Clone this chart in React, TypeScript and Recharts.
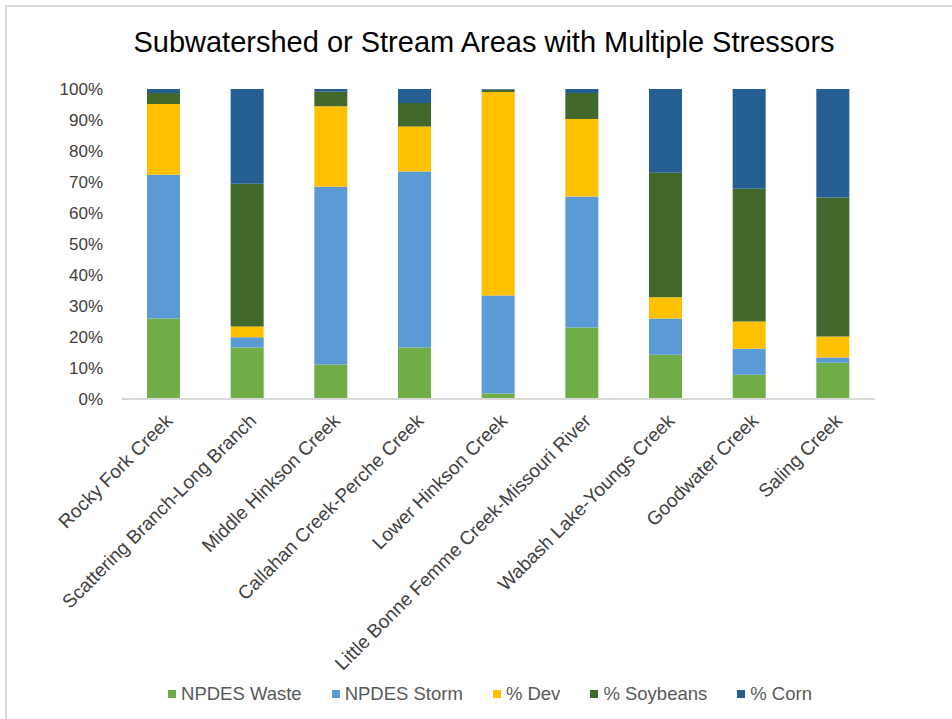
import React from 'react';
import { BarChart, Bar, XAxis, YAxis, Legend } from 'recharts';

const categories = [
  'Rocky Fork Creek',
  'Scattering Branch-Long Branch',
  'Middle Hinkson Creek',
  'Callahan Creek-Perche Creek',
  'Lower Hinkson Creek',
  'Little Bonne Femme Creek-Missouri River',
  'Wabash Lake-Youngs Creek',
  'Goodwater Creek',
  'Saling Creek',
];
const npdesWaste = [26.0, 16.6, 11.1, 16.6, 1.8, 23.1, 14.3, 7.8, 11.7];
const npdesStorm = [46.3, 3.3, 57.4, 56.8, 31.6, 42.2, 11.7, 8.4, 1.7];
const pctDev = [22.9, 3.5, 25.9, 14.5, 65.6, 25.0, 6.8, 8.8, 6.8];
const pctSoybeans = [3.5, 46.0, 4.7, 7.6, 0.8, 8.4, 40.2, 42.8, 44.8];
const pctCorn = [1.3, 30.6, 0.9, 4.5, 0.2, 1.3, 27.0, 32.2, 35.0];
const yTicks = [0, 10, 20, 30, 40, 50, 60, 70, 80, 90, 100];

const seriesNames = ['NPDES Waste', 'NPDES Storm', '% Dev', '% Soybeans', '% Corn'];
const seriesColors = ['#70AD47', '#5B9BD5', '#FFC000', '#43682B', '#255E91'];

const data = categories.map((name, i) => ({
  name,
  waste: npdesWaste[i],
  storm: npdesStorm[i],
  dev: pctDev[i],
  soy: pctSoybeans[i],
  corn: pctCorn[i],
}));
const keys = ['waste', 'storm', 'dev', 'soy', 'corn'];

const FONT = '"Liberation Sans", Arial, sans-serif';

const XTick = (props: any) => {
  const { x, y, payload } = props;
  return (
    <g transform={`translate(${x + 5},${y + 10})`}>
      <text
        x={0}
        y={0}
        textAnchor="end"
        transform="rotate(-45)"
        fontSize={19}
        fill="#404040"
        fontFamily={FONT}
        dy={7}
      >
        {payload.value}
      </text>
    </g>
  );
};

const LegendContent = (props: any) => {
  const payload = [...(props.payload || [])].sort(
    (a: any, b: any) => seriesNames.indexOf(a.value) - seriesNames.indexOf(b.value)
  );
  return (
    <div style={{ display: 'flex', justifyContent: 'center', fontFamily: FONT, fontSize: 18.5, color: '#595959', paddingLeft: 28 }}>
      {payload.map((p: any, i: number) => (
        <div key={i} style={{ display: 'flex', alignItems: 'center', marginRight: i < payload.length - 1 ? 30 : 0 }}>
          <span style={{ display: 'inline-block', width: 8, height: 8, background: p.color, marginRight: 5 }} />
          <span>{p.value}</span>
        </div>
      ))}
    </div>
  );
};

export default function App() {
  return (
    <div style={{ position: 'absolute', left: 0, top: 0, width: 952, height: 719, background: '#fff', overflow: 'hidden' }}>
      <div style={{ position: 'absolute', left: 5, top: 5, width: 960, height: 730, borderLeft: '2px solid #d9d9d9', borderTop: '2px solid #d9d9d9' }} />
      <div style={{ position: 'absolute', left: 0, top: 26, width: 968, textAlign: 'center', fontFamily: FONT, fontSize: 29, color: '#000' }}>
        Subwatershed or Stream Areas with Multiple Stressors
      </div>
      <div style={{ position: 'absolute', left: 0, top: 0 }}>
        <BarChart
          width={952}
          height={719}
          data={data}
          margin={{ top: 89, right: 77, bottom: 10, left: 0 }}
          barCategoryGap="30%"
        >
          <XAxis
            dataKey="name"
            interval={0}
            tick={<XTick />}
            tickLine={false}
            axisLine={{ stroke: '#d9d9d9', strokeWidth: 2 }}
            height={284}
          />
          <YAxis
            domain={[0, 100]}
            ticks={yTicks}
            tickFormatter={(v: number) => `${v}%`}
            tickLine={false}
            axisLine={false}
            tickSize={0}
            tickMargin={19}
            width={122}
            tick={{ fontSize: 17, fill: '#404040', fontFamily: FONT }}
            interval={0}
          />
          <Legend
            verticalAlign="bottom"
            content={<LegendContent />}
            height={26}
            wrapperStyle={{ left: 0, width: 952 }}
          />
          {keys.map((k, i) => (
            <Bar
              key={k}
              dataKey={k}
              name={seriesNames[i]}
              stackId="a"
              fill={seriesColors[i]}
              barSize={33}
              isAnimationActive={false}
            />
          ))}
        </BarChart>
      </div>
    </div>
  );
}
